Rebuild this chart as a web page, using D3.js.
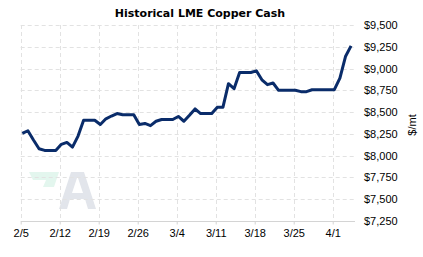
<!DOCTYPE html>
<html>
<head>
<meta charset="utf-8">
<script src="https://cdn.jsdelivr.net/npm/d3@7"></script>
<style>
  body { margin: 0; background: #fff; }
  text { font-family: Tahoma, "Liberation Sans", sans-serif; }
</style>
</head>
<body>
<script>
// LME copper cash, daily (weekends/holidays carry the last price)
var startDay = '2024-02-05';
var prices = [
  8255, 8286, 8180, 8080, 8060, 8060, 8060,   // 2/5 - 2/11
  8130, 8152, 8098, 8225, 8407, 8407, 8407,   // 2/12 - 2/18
  8358, 8423, 8455, 8483, 8470, 8470, 8470,   // 2/19 - 2/25
  8358, 8370, 8345, 8395, 8415, 8415, 8415,   // 2/26 - 3/3
  8450, 8395, 8464, 8537, 8483, 8483, 8483,   // 3/4 - 3/10
  8555, 8555, 8826, 8769, 8955, 8955, 8955,   // 3/11 - 3/17
  8974, 8871, 8815, 8834, 8750, 8750, 8750,   // 3/18 - 3/24
  8750, 8735, 8735, 8757, 8757, 8757, 8757,   // 3/25 - 3/31
  8757, 8890, 9138, 9260                      // 4/1 - 4/4
];
var xTicks = ['2024-02-05', '2024-02-12', '2024-02-19', '2024-02-26',
              '2024-03-04', '2024-03-11', '2024-03-18', '2024-03-25', '2024-04-01'];
var yTicks = [7250, 7500, 7750, 8000, 8250, 8500, 8750, 9000, 9250, 9500];

var w = 423, h = 257;
var parse = d3.timeParse('%Y-%m-%d');
var fmtDay = d3.timeFormat('%-m/%-d');
var fmtPrice = d3.format('$,');

var t0 = parse(startDay);
var data = prices.map(function(v, i) {
  return { date: d3.timeHour.offset(d3.timeDay.offset(t0, i), 7), value: v };
});

var svg = d3.select('body').append('svg')
  .attr('width', w)
  .attr('height', h);

var x = d3.scaleTime()
  .domain([t0, parse('2024-04-05')])
  .range([20.7, 355]);

var y = d3.scaleLinear()
  .domain([7250, 9500])
  .range([221, 25]);

// watermark logo
var wm = svg.append('g');
wm.append('path')
  .attr('d', 'M29,172 L59,172 L54,187 L43,187 L46,180 L33,180 Z')
  .attr('fill', '#e3f6ee');
wm.append('path')
  .attr('d', 'M59,209 L71,172 L84,172 L96,209 L88,209 L85,199 L70,199 L67,209 Z M72,193 L83,193 L78,178 L77,178 Z')
  .attr('fill-rule', 'evenodd')
  .attr('fill', '#e2e5eb');

// grid
svg.append('g').selectAll('line')
  .data(yTicks.slice(1))
  .enter().append('line')
  .attr('x1', 20.7).attr('x2', 355)
  .attr('y1', d => Math.round(y(d)) + 0.5)
  .attr('y2', d => Math.round(y(d)) + 0.5)
  .attr('stroke', '#e2e2e2')
  .attr('stroke-dasharray', '4,3');

svg.append('g').selectAll('line')
  .data(xTicks.map(parse))
  .enter().append('line')
  .attr('x1', d => Math.round(x(d)) + 0.5)
  .attr('x2', d => Math.round(x(d)) + 0.5)
  .attr('y1', 25).attr('y2', 221)
  .attr('stroke', '#e2e2e2')
  .attr('stroke-dasharray', '4,3');

// x axis
var xAxis = svg.append('g')
  .attr('transform', 'translate(0,' + (y(7250) + 0.5) + ')')
  .call(d3.axisBottom(x)
    .tickValues(xTicks.map(parse))
    .tickSize(3)
    .tickPadding(5)
    .tickFormat(fmtDay));
xAxis.select('.domain').attr('stroke', '#d4d4d4').attr('d', 'M20.7,0H355');
xAxis.selectAll('.tick line').attr('stroke', '#d4d4d4');
xAxis.selectAll('.tick text')
  .attr('font-size', 11)
  .attr('fill', '#000');

// y labels (right side)
svg.append('g').selectAll('text')
  .data(yTicks)
  .enter().append('text')
  .attr('x', 364)
  .attr('y', d => y(d) + 4)
  .attr('font-size', 11)
  .attr('fill', '#000')
  .text(d => fmtPrice(d));

svg.append('text')
  .attr('transform', 'translate(416,125) rotate(-90)')
  .attr('text-anchor', 'middle')
  .attr('font-size', 11)
  .text('$/mt');

// title
svg.append('text')
  .attr('x', 200).attr('y', 17)
  .attr('text-anchor', 'middle')
  .style('font-family', '"DejaVu Sans", Verdana, sans-serif')
  .attr('font-weight', 'bold')
  .attr('font-size', 11)
  .text('Historical LME Copper Cash');

// line
var line = d3.line()
  .x(d => x(d.date))
  .y(d => y(d.value));

svg.append('path')
  .datum(data)
  .attr('d', line)
  .attr('fill', 'none')
  .attr('stroke', '#0a2c6a')
  .attr('stroke-width', 3)
  .attr('stroke-linejoin', 'round');
</script>
</body>
</html>
